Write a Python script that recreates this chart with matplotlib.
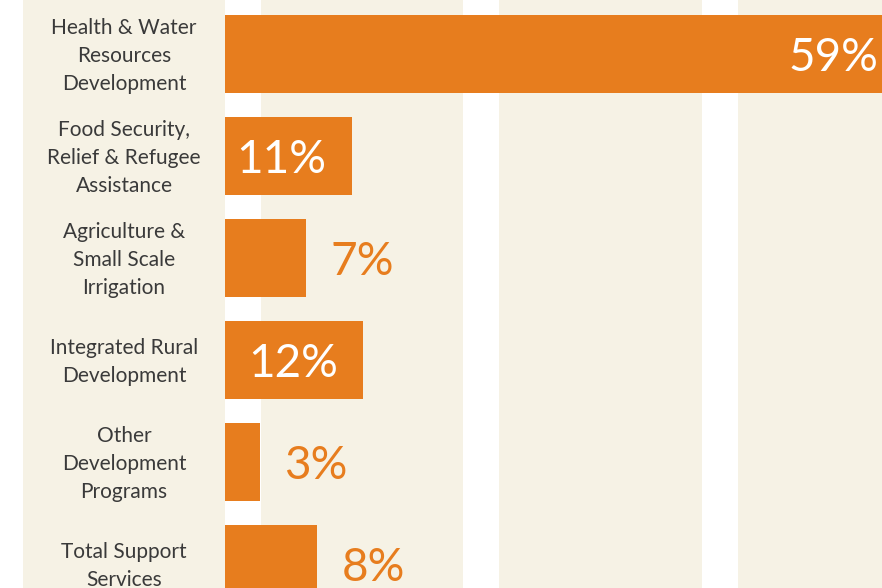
import matplotlib
matplotlib.use("Agg")
import matplotlib.pyplot as plt
from matplotlib.patches import Rectangle
from matplotlib.transforms import blended_transform_factory, offset_copy

categories = [
    "Health & Water\nResources\nDevelopment",
    "Food Security,\nRelief & Refugee\nAssistance",
    "Agriculture &\nSmall Scale\nIrrigation",
    "Integrated Rural\nDevelopment",
    "Other\nDevelopment\nPrograms",
    "Total Support\nServices",
]
values = [59, 11, 7, 12, 3, 8]
value_labels = ["59%", "11%", "7%", "12%", "3%", "8%"]

ORANGE = "#E77D1E"
BEIGE = "#F6F2E5"
TEXT = "#3a3a3a"
W, H = 882, 588

fig = plt.figure(figsize=(W / 100, H / 100), dpi=100)
fig.patch.set_facecolor("white")

# background columns in a full-figure axes (pixel coords)
bg = fig.add_axes([0, 0, 1, 1], zorder=-1)
bg.set_xlim(0, W)
bg.set_ylim(H, 0)
bg.axis("off")
for x0, x1 in [(23, 225), (261, 463), (499, 702), (738, 882)]:
    bg.add_patch(Rectangle((x0, 0), x1 - x0, H, facecolor=BEIGE, edgecolor="none"))

ax_left = 225
ax = fig.add_axes([ax_left / W, 0, (W - ax_left) / W, 1], zorder=1)
ax.set_facecolor("none")
px_per_unit = 11.5
ax.set_xlim(0, (W - ax_left) / px_per_unit)
pitch = 102.0
first_center = 54.0
ax.set_ylim((H - first_center) / pitch, -first_center / pitch)
ax.axis("off")

ypos = list(range(len(values)))
ax.barh(ypos, values, height=78 / pitch, color=ORANGE, edgecolor="none", zorder=2)

fam = ["Lato", "DejaVu Sans"]
for y, v, lab in zip(ypos, values, value_labels):
    if v >= 10:
        tr = offset_copy(ax.transData, fig=fig, x=-25, y=-4, units="dots")
        ax.text(v, y, lab, transform=tr, ha="right", va="center", color="white",
                fontsize=33, family=fam, clip_on=False, zorder=3)
    else:
        tr = offset_copy(ax.transData, fig=fig, x=25, y=-4, units="dots")
        ax.text(v, y, lab, transform=tr, ha="left", va="center", color=ORANGE,
                fontsize=33, family=fam, clip_on=False, zorder=3)

tr_lab = offset_copy(blended_transform_factory(fig.transFigure, ax.transData),
                     fig=fig, x=0, y=-2, units="dots")
for y, c in zip(ypos, categories):
    ax.text(124 / W, y, c, transform=tr_lab, ha="center", va="center",
            multialignment="center", color=TEXT, fontsize=15, family=fam,
            linespacing=1.48, clip_on=False)

fig.savefig("out.png", dpi=100)
